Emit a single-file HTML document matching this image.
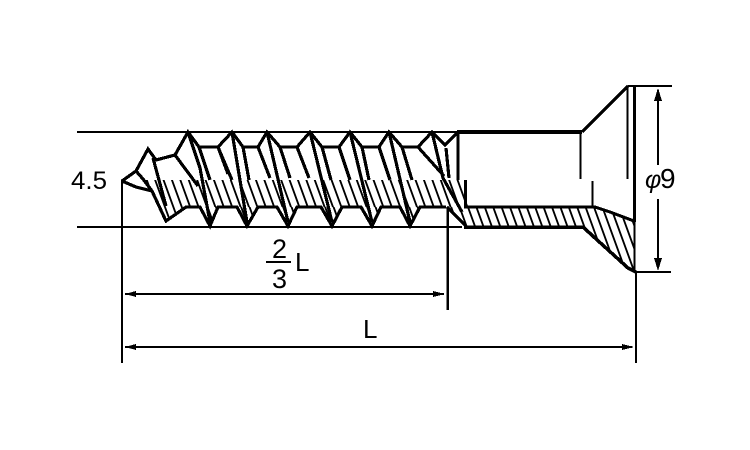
<!DOCTYPE html>
<html><head><meta charset="utf-8"><style>
html,body{margin:0;padding:0;background:#fff;width:750px;height:450px;overflow:hidden}
svg{display:block}
text{font-family:"Liberation Sans",sans-serif;fill:#000}
</style></head><body>
<svg width="750" height="450" viewBox="0 0 750 450" xmlns="http://www.w3.org/2000/svg" shape-rendering="crispEdges">
<defs>
<pattern id="h" width="8.4" height="27" patternUnits="userSpaceOnUse" patternTransform="translate(0 180) skewX(20)">
<rect x="3" y="0" width="2" height="27" fill="#000"/>
</pattern>
<pattern id="h2" width="8.4" height="27" patternUnits="userSpaceOnUse" patternTransform="translate(2 207) skewX(20)">
<rect x="3" y="0" width="2" height="27" fill="#000"/>
</pattern>
</defs>
<rect width="750" height="450" fill="#fff"/>
<!-- hatching -->
<path d="M146 180H465L470 207H186L166 220L152 191Z" fill="url(#h)"/>
<path d="M200 207L210 226L218 207ZM237 207L247 226L258 207ZM277 207L288 226L297 207ZM321 207L332 226L342 207ZM361 207L372 226L381 207ZM400 207L410 226L420 207Z" fill="url(#h2)"/>
<path d="M448 207H595L610 212L634 221V272L628 268L595 237L583 227H464Z" fill="url(#h2)"/>
<!-- thin lines -->
<g stroke="#000" stroke-width="2" fill="none">
<path d="M77 132H457M77 227H462"/>
<path d="M122 180V363"/>
<path d="M628 86H672M634 272H671"/>
<path d="M636 272V363"/>
<path d="M658 90V165M658 199V268"/>
<path d="M266 262H291"/>
</g>
<!-- thread profile -->
<g stroke="#000" stroke-width="3.2" fill="none" stroke-linejoin="miter">
<path d="M122 181L136 171L148 149L156 160L175 155L188 132L199 147H218L232 132L243 147H258L267 132L280 147H297L310 132L322 147H339L350 132L362 147H379L389 132L402 147H418L432 132L445 145L457 133"/>
<path d="M122 181L136 187L152 191L166 221L186 207H200L210 226L218 207H237L247 226L258 207H277L288 226L297 207H321L332 226L342 207H361L372 226L381 207H400L410 226L420 207H446"/>
<path d="M136 171L143 179L152 191"/>
<path d="M153 158L166 206"/>
<path d="M175 155L198 186"/>
<path d="M188 132L200 168L210 222"/>
<path d="M199 147L210 180"/>
<path d="M218 147L232 180"/>
<path d="M232 132L247 222"/>
<path d="M218 147L228 174"/>
<path d="M243 147L249 180"/>
<path d="M267 132L288 222"/>
<path d="M258 147L270 178"/>
<path d="M280 147L290 178"/>
<path d="M310 132L332 222"/>
<path d="M297 147L309 178"/>
<path d="M322 147L331 180"/>
<path d="M350 132L372 222"/>
<path d="M339 147L350 180"/>
<path d="M362 147L369 180"/>
<path d="M389 132L410 222"/>
<path d="M379 147L390 180"/>
<path d="M402 147L412 180"/>
<path d="M418 147L444 176"/>
<path d="M432 132L443 178L462 212"/>
<path d="M446 148L449 178"/>
<path d="M447 207L466 226"/>
</g>
<!-- heavy lines -->
<g stroke="#000" fill="none">
<path d="M458 132V180" stroke-width="3"/>
<path d="M457 132H582" stroke-width="4"/>
<path d="M582 132L628 86" stroke-width="3.5"/>
<path d="M580.500 132V179" stroke-width="2"/>
<path d="M627.500 86V179" stroke-width="2"/>
<path d="M634.500 86V222" stroke-width="3"/>
<path d="M634.500 222V272" stroke-width="2"/>
<path d="M592.500 181V208" stroke-width="2"/>
<path d="M465.500 180V208" stroke-width="3"/>
<path d="M447.500 207V310" stroke-width="2.500"/>
<path d="M464 207H595L610 212L634 221" stroke-width="3"/>
<path d="M464 227H583L595 238L628 268L636 272" stroke-width="3.500"/>
<path d="M125 294H444M125 347H632" stroke-width="2"/>
</g>
<!-- arrowheads -->
<g fill="#000">
<path d="M125 294L136 291V297Z"/>
<path d="M445 294L433 291V297Z"/>
<path d="M125 347L136 344V350Z"/>
<path d="M634 347L622 344V350Z"/>
<path d="M658 88L654 101H662Z"/>
<path d="M658 271L654 258H662Z"/>
</g>
<!-- labels -->
<text x="71" y="189" font-size="25" textLength="36" lengthAdjust="spacingAndGlyphs">4.5</text>
<text x="272" y="258" font-size="27">2</text>
<text x="272" y="288" font-size="27">3</text>
<text x="295" y="271" font-size="26">L</text>
<text x="363" y="338" font-size="26">L</text>
<text x="645" y="188" font-size="25" font-style="italic" font-family="DejaVu Sans">φ</text>
<text x="660" y="188" font-size="28">9</text>
</svg>
</body></html>
